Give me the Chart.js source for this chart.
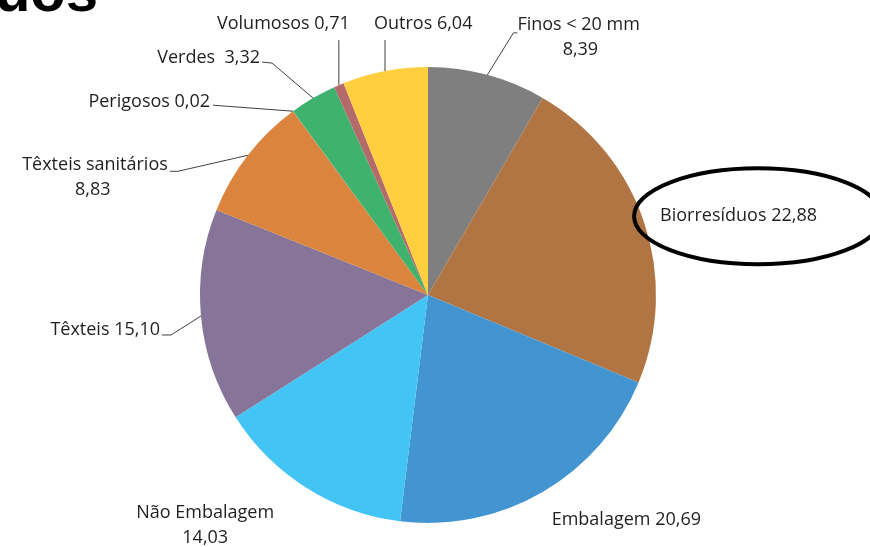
<!DOCTYPE html>
<html>
<head>
<meta charset="utf-8">
<script src="https://cdn.jsdelivr.net/npm/chart.js@4.4.0/dist/chart.umd.min.js"></script>
<style>
  body { margin: 0; background: #fff; }
</style>
</head>
<body>
<canvas id="pizza" width="870" height="547"></canvas>
<script>
var categorias = ['Finos < 20 mm', 'Biorresíduos', 'Embalagem', 'Não Embalagem', 'Têxteis',
                  'Têxteis sanitários', 'Perigosos', 'Verdes ', 'Volumosos', 'Outros'];
var valores = [8.39, 22.88, 20.69, 14.03, 15.10, 8.83, 0.02, 3.32, 0.71, 6.04];
var duasLinhas = [true, false, false, true, false, true, false, false, false, false];
var cores = ['#7f7f7f', '#b07542', '#4395d1', '#42c4f4', '#877599',
             '#db843d', '#a5a5a5', '#3fb36e', '#b26a6a', '#ffcf40'];

// posicao dos rotulos relativa ao ponto da borda no meio de cada fatia
var rotulos = [
  { linha: [[26, -42], [30, -42]], texto: [[30, -50, 'left'], [93, -25, 'center']] },
  { linha: null, texto: [[16, -6, 'left']], elipse: [114, -6, 124, 48] },
  { linha: null, texto: [[9, 28, 'left']] },
  { linha: null, texto: [[-101, 25, 'center'], [-101, 50, 'center']] },
  { linha: [[-30, 19], [-39, 19]], texto: [[-41, 14, 'right']] },
  { linha: [[-70, 16], [-78, 16]], texto: [[-80, 10, 'right'], [-155, 35, 'center']] },
  { linha: [[-80, -6]], texto: [[-83, -9, 'right']] },
  { linha: [[-41, -35], [-51, -36]], texto: [[-53, -40, 'right']] },
  { linha: [[0, -45]], texto: [[11, -61, 'right']] },
  { linha: [[0, -31]], texto: [[-11, -47, 'left']] }
];

function fmt(v) {
  return v.toFixed(2).replace('.', ',');
}

var rotulosPlugin = {
  id: 'rotulos',
  afterDraw: function(chart) {
    var ctx = chart.ctx;
    var meta = chart.getDatasetMeta(0);
    ctx.save();

    // pedaco do titulo cortado no topo
    ctx.fillStyle = '#000';
    ctx.font = 'bold 58px "Liberation Sans"';
    ctx.textAlign = 'right';
    ctx.textBaseline = 'alphabetic';
    ctx.fillText('Resíduos', 98, 11);

    ctx.font = '18px "Open Sans"';
    ctx.textBaseline = 'middle';
    meta.data.forEach(function(arc, i) {
      var p = arc.getProps(['x', 'y', 'startAngle', 'endAngle', 'outerRadius'], true);
      var meio = (p.startAngle + p.endAngle) / 2;
      var ex = p.x + Math.cos(meio) * p.outerRadius;
      var ey = p.y + Math.sin(meio) * p.outerRadius;
      var r = rotulos[i];

      if (r.linha) {
        ctx.strokeStyle = '#404040';
        ctx.lineWidth = 1;
        ctx.beginPath();
        ctx.moveTo(ex, ey);
        r.linha.forEach(function(pt) { ctx.lineTo(ex + pt[0], ey + pt[1]); });
        ctx.stroke();
      }

      var linhas = duasLinhas[i] ? [categorias[i], fmt(valores[i])]
                                 : [categorias[i] + ' ' + fmt(valores[i])];
      ctx.fillStyle = '#1f1f1f';
      linhas.forEach(function(t, k) {
        var pos = r.texto[k];
        ctx.textAlign = pos[2];
        ctx.fillText(t, ex + pos[0], ey + pos[1]);
      });

      if (r.elipse) {
        ctx.strokeStyle = '#000';
        ctx.lineWidth = 4;
        ctx.beginPath();
        ctx.ellipse(ex + r.elipse[0], ey + r.elipse[1], r.elipse[2], r.elipse[3], 0, 0, Math.PI * 2);
        ctx.stroke();
      }
    });
    ctx.restore();
  }
};

var config = {
  type: 'pie',
  data: {
    labels: categorias,
    datasets: [{
      data: valores,
      backgroundColor: cores,
      borderWidth: 0
    }]
  },
  options: {
    responsive: false,
    animation: false,
    events: [],
    layout: { padding: { left: 200, right: 214, top: 67, bottom: 24 } },
    plugins: {
      legend: { display: false },
      tooltip: { enabled: false }
    }
  },
  plugins: [rotulosPlugin]
};

var grafico = new Chart(document.getElementById('pizza').getContext('2d'), config);
</script>
</body>
</html>
